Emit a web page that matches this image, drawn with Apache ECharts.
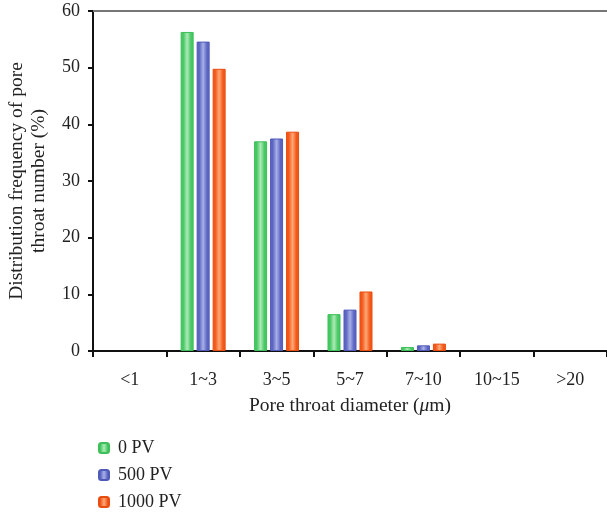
<!DOCTYPE html>
<html><head><meta charset="utf-8">
<script src="https://cdn.jsdelivr.net/npm/echarts@6/dist/echarts.min.js"></script>
<style>html,body{margin:0;padding:0;background:#fff}#c{width:607px;height:518px}</style>
</head><body><div id="c"></div>
<script>
const categories = ['<1', '1~3', '3~5', '5~7', '7~10', '10~15', '>20'];
const pv0 = [0, 56.3, 37.0, 6.5, 0.7, 0, 0];
const pv500 = [0, 54.6, 37.5, 7.3, 1.0, 0, 0];
const pv1000 = [0, 49.8, 38.7, 10.5, 1.3, 0, 0];
const yTicks = [0, 10, 20, 30, 40, 50, 60];

const FONT = '"Liberation Serif", "DejaVu Serif", serif';
function grad(edge, mid) {
  return new echarts.graphic.LinearGradient(0, 0, 1, 0, [
    {offset: 0, color: edge}, {offset: 0.2, color: edge},
    {offset: 0.5, color: mid}, {offset: 0.8, color: edge}, {offset: 1, color: edge}
  ]);
}
const seriesDefs = [
  {name: '0 PV', data: pv0, edge: '#46c862', mid: '#aeeab8', border: '#3cbf58'},
  {name: '500 PV', data: pv500, edge: '#5c66c2', mid: '#a9b0e6', border: '#4f59b8'},
  {name: '1000 PV', data: pv1000, edge: '#f2581a', mid: '#ffa877', border: '#e84c0e'}
];
const chart = echarts.init(document.getElementById('c'), null, {renderer: 'canvas'});
chart.setOption({
  animation: false,
  backgroundColor: '#fff',
  grid: {left: 93, right: 0, top: 11, bottom: 167, containLabel: false, outerBoundsMode: 'none'},
  legend: seriesDefs.map((s, i) => ({
    orient: 'vertical', left: 93, top: 434 + i * 27, itemWidth: 10, itemHeight: 10,
    textStyle: {fontFamily: FONT, fontSize: 18, color: '#222', padding: [0, 0, 0, 4]},
    data: [s.name]
  })),
  xAxis: [{
    type: 'category', data: categories, position: 'bottom',
    axisLine: {lineStyle: {color: '#111', width: 2}},
    axisTick: {show: true, length: 6, lineStyle: {color: '#111', width: 2}},
    axisLabel: {fontFamily: FONT, fontSize: 18, color: '#222', margin: 20},
    name: '{n|Pore throat diameter (}{i|μ}{n|m)}', nameLocation: 'middle', nameGap: 45,
    nameTextStyle: {rich: {n: {fontFamily: FONT, fontSize: 19.5, color: '#222'}, i: {fontFamily: FONT, fontSize: 19.5, fontStyle: 'italic', color: '#222'}}}
  }, {
    type: 'category', data: categories, position: 'top',
    axisLine: {lineStyle: {color: '#777', width: 2}},
    axisTick: {show: false}, axisLabel: {show: false}
  }],
  yAxis: {
    type: 'value', min: 0, max: 60, interval: 10,
    axisLine: {show: true, lineStyle: {color: '#111', width: 2}},
    axisTick: {show: true, length: 5, lineStyle: {color: '#111', width: 2}},
    axisLabel: {fontFamily: FONT, fontSize: 18, color: '#222', margin: 13,
      formatter: v => yTicks.includes(v) ? String(v) : ''},
    splitLine: {show: false},
    name: 'Distribution frequency of pore\nthroat number (%)', nameLocation: 'middle', nameGap: 43,
    nameTextStyle: {fontFamily: FONT, fontSize: 19.5, color: '#222', lineHeight: 22}
  },
  series: seriesDefs.map(s => ({
    name: s.name, type: 'bar', data: s.data.map(v => v === 0 ? '-' : v), barWidth: 13, barGap: '23%',
    itemStyle: {color: grad(s.edge, s.mid), borderColor: s.border, borderWidth: 1}
  }))
});
</script></body></html>
